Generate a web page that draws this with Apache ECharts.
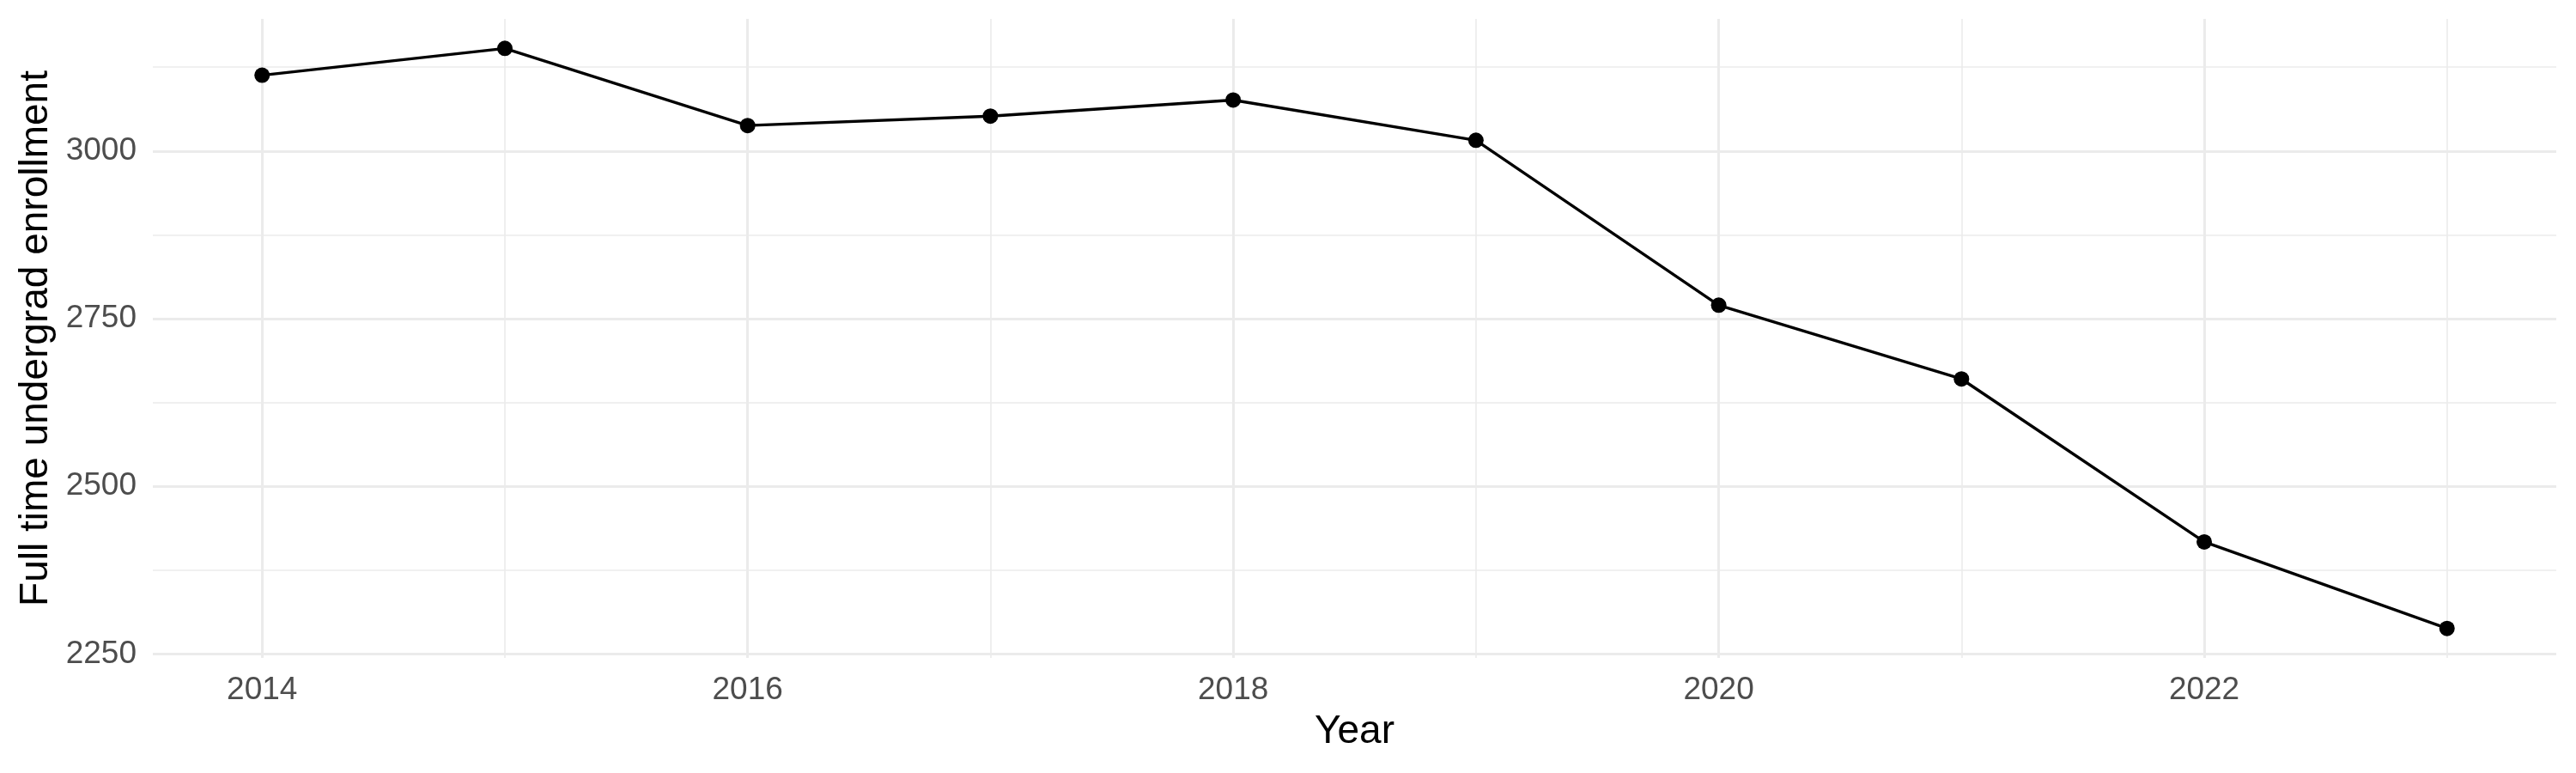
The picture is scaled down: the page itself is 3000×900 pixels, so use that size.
<!DOCTYPE html>
<html>
<head>
<meta charset="utf-8">
<script src="https://cdn.jsdelivr.net/npm/echarts@6/dist/echarts.min.js"></script>
<style>
html,body{margin:0;padding:0;background:#fff;}
#chart{width:3000px;height:900px;}
</style>
</head>
<body>
<div id="chart"></div>
<script>
const years = [2014, 2015, 2016, 2017, 2018, 2019, 2020, 2021, 2022, 2023];
const enrollment = [3113, 3153, 3038, 3052, 3076, 3016, 2770, 2660, 2417, 2288];
const xMajorTicks = [2014, 2016, 2018, 2020, 2022];
const xMinorTicks = [2015, 2017, 2019, 2021, 2023];
const yMajorTicks = [2250, 2500, 2750, 3000];
const yMinorTicks = [2375, 2625, 2875, 3125];
const xTitle = 'Year';
const yTitle = 'Full time undergrad enrollment';

const X_MIN = 2013.55, X_MAX = 2023.45;
const Y_MIN = 2244, Y_MAX = 3197;
const FONT = '"Liberation Sans", Arial, Helvetica, sans-serif';
const GRID = '#EBEBEB';

const chart = echarts.init(document.getElementById('chart'), null, {renderer: 'canvas'});
const option = {
  backgroundColor: '#ffffff',
  animation: false,
  grid: {left: 178, right: 23, top: 22, bottom: 134, containLabel: false},
  xAxis: [
    {
      type: 'value', min: X_MIN, max: X_MAX,
      name: xTitle, nameLocation: 'middle', nameGap: 63,
      nameTextStyle: {fontFamily: FONT, fontSize: 46, color: '#000'},
      axisLine: {show: false},
      axisTick: {show: false, customValues: xMajorTicks},
      axisLabel: {customValues: xMajorTicks, fontFamily: FONT, fontSize: 37, color: '#4D4D4D', margin: 19,
                  formatter: v => String(v)},
      splitLine: {show: true, lineStyle: {color: GRID, width: 3}}
    },
    {
      type: 'value', min: X_MIN, max: X_MAX, position: 'bottom',
      axisLine: {show: false},
      axisTick: {show: false, customValues: xMinorTicks},
      axisLabel: {show: false, customValues: xMinorTicks},
      splitLine: {show: true, lineStyle: {color: GRID, width: 1.6}}
    }
  ],
  yAxis: [
    {
      type: 'value', min: Y_MIN, max: Y_MAX,
      name: yTitle, nameLocation: 'middle', nameGap: 111, nameRotate: 90,
      nameTextStyle: {fontFamily: FONT, fontSize: 46, color: '#000'},
      axisLine: {show: false},
      axisTick: {show: false, customValues: yMajorTicks},
      axisLabel: {customValues: yMajorTicks, fontFamily: FONT, fontSize: 37, color: '#4D4D4D', margin: 19,
                  formatter: v => String(v)},
      splitLine: {show: true, lineStyle: {color: GRID, width: 3}}
    },
    {
      type: 'value', min: Y_MIN, max: Y_MAX, position: 'left',
      axisLine: {show: false},
      axisTick: {show: false, customValues: yMinorTicks},
      axisLabel: {show: false, customValues: yMinorTicks},
      splitLine: {show: true, lineStyle: {color: GRID, width: 1.6}}
    }
  ],
  series: [
    {
      type: 'line',
      xAxisIndex: 0, yAxisIndex: 0,
      data: years.map((y, i) => [y, enrollment[i]]),
      lineStyle: {color: '#000', width: 3.4},
      itemStyle: {color: '#000'},
      symbol: 'circle', symbolSize: 18,
      showAllSymbol: true,
      z: 5
    }
  ]
};
chart.setOption(option);
</script>
</body>
</html>
